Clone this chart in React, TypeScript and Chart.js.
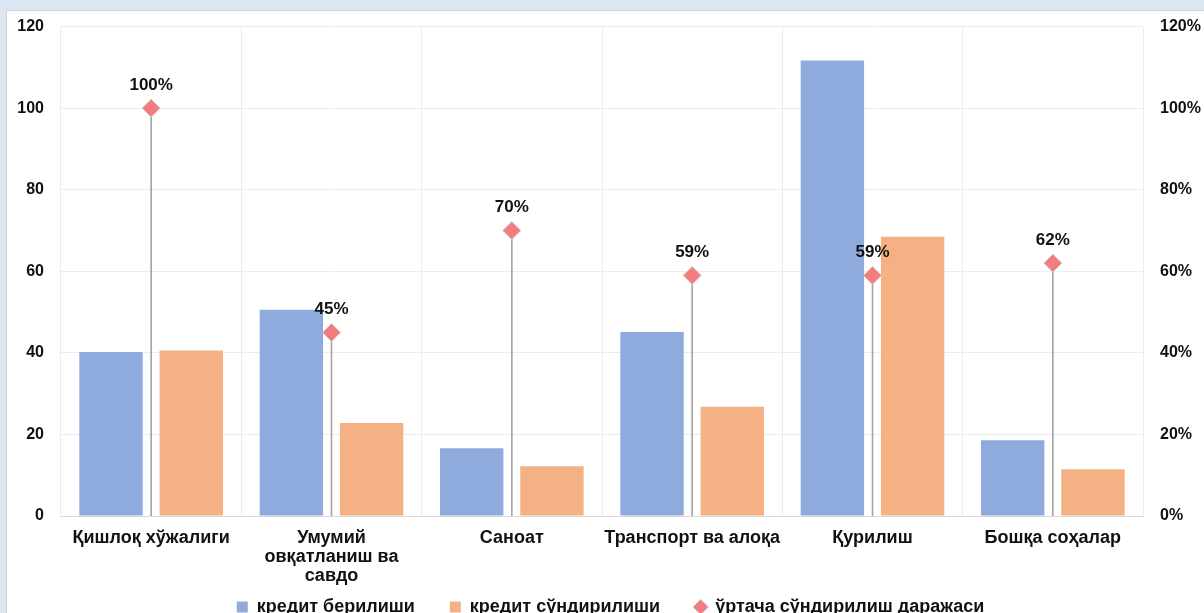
import React, { useEffect, useRef } from "react";
import { Chart, registerables } from "chart.js";

Chart.register(...registerables);

const categories: (string | string[])[] = [
  "Қишлоқ хўжалиги",
  ["Умумий", "овқатланиш ва", "савдо"],
  "Саноат",
  "Транспорт ва алоқа",
  "Қурилиш",
  "Бошқа соҳалар",
];

const creditIssued = [40.2, 50.6, 16.6, 45.1, 111.7, 18.6];
const creditRepaid = [40.6, 22.8, 12.2, 26.8, 68.5, 11.5];
const repaymentRate = [100, 45, 70, 59, 59, 62];

const seriesNames = [
  "кредит берилиши",
  "кредит сўндирилиши",
  "ўртача сўндирилиш даражаси",
];

const leftTicks = [0, 20, 40, 60, 80, 100, 120];
const rightTicks = [0, 20, 40, 60, 80, 100, 120];

const FONT = "'Liberation Sans', Arial, sans-serif";
const TEXT = "#111111";
const LEGEND_TOP = 563;

// Vertical drop lines from each rate marker to the category axis
const dropLines = {
  id: "dropLines",
  beforeDatasetsDraw(chart: any) {
    const meta = chart.getDatasetMeta(2);
    const bottom = chart.chartArea.bottom;
    const ctx = chart.ctx;
    ctx.save();
    ctx.strokeStyle = "#a3a3a3";
    ctx.lineWidth = 1.6;
    meta.data.forEach((pt: any) => {
      ctx.beginPath();
      ctx.moveTo(pt.x, pt.y);
      ctx.lineTo(pt.x, bottom);
      ctx.stroke();
    });
    ctx.restore();
  },
};

// Percentage labels above the rate markers
const rateLabels = {
  id: "rateLabels",
  afterDatasetsDraw(chart: any) {
    const meta = chart.getDatasetMeta(2);
    const ctx = chart.ctx;
    ctx.save();
    ctx.font = `bold 17px ${FONT}`;
    ctx.fillStyle = TEXT;
    ctx.textAlign = "center";
    ctx.textBaseline = "middle";
    meta.data.forEach((pt: any, i: number) => {
      ctx.fillText(`${repaymentRate[i]}%`, pt.x, pt.y - 23);
    });
    ctx.restore();
  },
};

// Pull the legend row up so it sits just under the category labels
const legendPlacement = {
  id: "legendPlacement",
  afterLayout(chart: any) {
    const lg = chart.legend;
    if (!lg) return;
    const d = LEGEND_TOP - lg.top;
    lg.top += d;
    lg.bottom += d;
  },
};

export default function App() {
  const canvasRef = useRef<HTMLCanvasElement | null>(null);

  useEffect(() => {
    document.body.style.margin = "0";
    const canvas = canvasRef.current;
    if (!canvas) return;
    const chart = new Chart(canvas, {
      type: "bar",
      data: {
        labels: categories,
        datasets: [
          {
            type: "bar",
            label: seriesNames[0],
            data: creditIssued,
            backgroundColor: "#8faadc",
            yAxisID: "y",
            order: 2,
            pointStyle: "rect",
          } as any,
          {
            type: "bar",
            label: seriesNames[1],
            data: creditRepaid,
            backgroundColor: "#f4b183",
            yAxisID: "y",
            order: 2,
            pointStyle: "rect",
          } as any,
          {
            type: "line",
            label: seriesNames[2],
            data: repaymentRate,
            yAxisID: "y1",
            showLine: false,
            pointStyle: "rectRot",
            pointRadius: 9,
            pointHoverRadius: 9,
            pointBackgroundColor: "#f27c80",
            pointBorderColor: "#d6cccc",
            pointBorderWidth: 1,
            backgroundColor: "#f27c80",
            borderColor: "#f27c80",
            order: 1,
          } as any,
        ],
      },
      options: {
        animation: false,
        responsive: false,
        maintainAspectRatio: false,
        layout: { padding: { left: 17, right: 0, top: 25, bottom: 0 } },
        datasets: {
          bar: { categoryPercentage: 0.89, barPercentage: 0.79 },
        },
        plugins: {
          legend: {
            position: "bottom",
            labels: {
              usePointStyle: true,
              boxWidth: 11,
              boxHeight: 11,
              padding: 35,
              color: TEXT,
              font: { family: FONT, size: 18, weight: "bold" },
              sort: (a: any, b: any) => a.datasetIndex - b.datasetIndex,
            },
          },
          tooltip: { enabled: false },
        },
        scales: {
          x: {
            grid: { color: "#ececec", drawTicks: false, offset: true },
            border: { color: "#d9d9d9" },
            ticks: {
              color: TEXT,
              padding: 13,
              maxRotation: 0,
              autoSkip: false,
              font: { family: FONT, size: 18, weight: "bold", lineHeight: 1.055 },
            },
          },
          y: {
            position: "left",
            min: 0,
            max: 120,
            afterBuildTicks: (scale: any) => {
              scale.ticks = leftTicks.map((v) => ({ value: v }));
            },
            afterFit: (scale: any) => {
              scale.width = 44;
            },
            grid: { color: "#ececec", drawTicks: false },
            border: { display: false },
            ticks: {
              color: TEXT,
              padding: 17,
              font: { family: FONT, size: 16, weight: "bold" },
            },
          },
          y1: {
            position: "right",
            min: 0,
            max: 120,
            afterBuildTicks: (scale: any) => {
              scale.ticks = rightTicks.map((v) => ({ value: v }));
            },
            afterFit: (scale: any) => {
              scale.width = 61;
            },
            grid: { display: false, drawTicks: false },
            border: { display: false },
            ticks: {
              color: TEXT,
              padding: 17,
              font: { family: FONT, size: 16, weight: "bold" },
              callback: (v: any) => `${v}%`,
            },
          },
        },
      } as any,
      plugins: [dropLines, rateLabels, legendPlacement],
    });
    return () => chart.destroy();
  }, []);

  return (
    <div
      style={{
        position: "relative",
        width: 1204,
        height: 613,
        overflow: "hidden",
        background: "#dde7f3",
      }}
    >
      <div
        style={{
          position: "absolute",
          left: 6,
          top: 10,
          width: 1230,
          height: 640,
          background: "#ffffff",
          border: "1px solid #cfd3d8",
        }}
      />
      <canvas
        ref={canvasRef}
        width={1204}
        height={662}
        style={{ position: "absolute", left: 0, top: 0, width: 1204, height: 662 }}
      />
    </div>
  );
}
